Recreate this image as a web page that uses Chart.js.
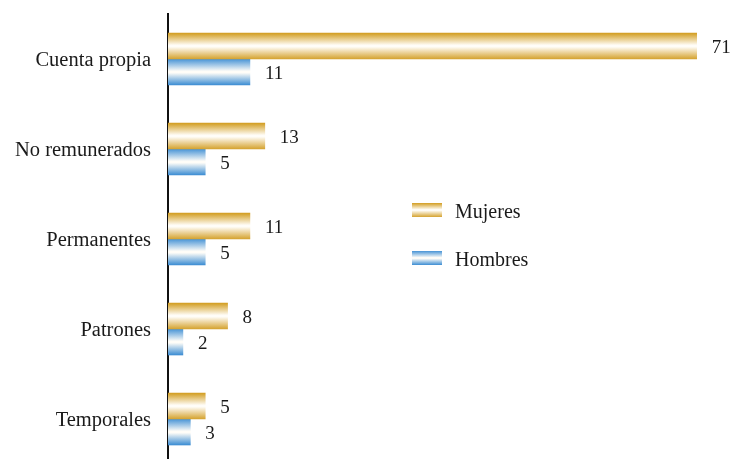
<!DOCTYPE html>
<html>
<head>
<meta charset="utf-8">
<script src="https://cdn.jsdelivr.net/npm/chart.js@4/dist/chart.umd.min.js"></script>
<style>
  html, body { margin: 0; padding: 0; background: #fff; overflow: hidden; }
  #wrap { width: 734px; height: 459px; overflow: hidden; }
  canvas { display: block; }
</style>
</head>
<body>
<div id="wrap"><canvas id="Chart_0" width="734" height="464"></canvas></div>
<script>
"use strict";

// datos
const categorias = ['Cuenta propia', 'No remunerados', 'Permanentes', 'Patrones', 'Temporales'];
const mujeres = [71, 13, 11, 8, 5];
const hombres = [11, 5, 5, 2, 3];
const series_Na = ['Mujeres', 'Hombres'];

const FONT = "'Liberation Serif', 'DejaVu Serif', serif";
const BAR_H = 26;

// gradiente vertical (color - blanco - color)
function grad(ctx, y0, y1, c_Top, c_Bot) {
  const g = ctx.createLinearGradient(0, y0, 0, y1);
  g.addColorStop(0, c_Top);
  g.addColorStop(0.47, '#fffdf8');
  g.addColorStop(0.53, '#fffdf8');
  g.addColorStop(1, c_Bot);
  return g;
}
const colores = [['#d29d20', '#d5a330'], ['#4693d6', '#3c8dd3']];

function barFill(context) {
  const chart = context.chart, ds = context.datasetIndex;
  const y = chart.scales.y;
  if (!y || context.dataIndex === undefined) return colores[ds][0];
  const mid = y.getPixelForValue(context.dataIndex);
  if (!isFinite(mid)) return colores[ds][0];
  const top = ds === 0 ? mid - BAR_H : mid;
  return grad(chart.ctx, top, top + BAR_H, colores[ds][0], colores[ds][1]);
}

// etiquetas de valor y leyenda
const extras = {
  id: 'extras',
  afterDatasetsDraw(chart) {
    const ctx = chart.ctx;
    ctx.save();
    ctx.font = '19px ' + FONT;
    ctx.fillStyle = '#1a1a1a';
    ctx.textBaseline = 'middle';
    chart.data.datasets.forEach((d, i) => {
      chart.getDatasetMeta(i).data.forEach((bar, j) => {
        ctx.fillText(String(d.data[j]), bar.x + 15, bar.y + 2);
      });
    });
    // leyenda
    ctx.font = '20px ' + FONT;
    const lx = 412, ly = [210, 258];
    series_Na.forEach((n, i) => {
      ctx.fillStyle = grad(ctx, ly[i] - 7, ly[i] + 7, colores[i][0], colores[i][1]);
      ctx.fillRect(lx, ly[i] - 7, 30, 14);
      ctx.fillStyle = '#1a1a1a';
      ctx.fillText(n, 455, ly[i] + 3);
    });
    ctx.restore();
  }
};

new Chart(document.getElementById('Chart_0'), {
  type: 'bar',
  data: {
    labels: categorias,
    datasets: [
      { label: series_Na[0], data: mujeres, backgroundColor: barFill, barThickness: BAR_H },
      { label: series_Na[1], data: hombres, backgroundColor: barFill, barThickness: BAR_H }
    ]
  },
  options: {
    indexAxis: 'y',
    responsive: false,
    animation: false,
    layout: { padding: { top: 14, right: 15, bottom: 0, left: 0 } },
    plugins: { legend: { display: false }, tooltip: { enabled: false } },
    scales: {
      x: { display: false, min: 0, max: 74 },
      y: {
        grid: { display: false, drawTicks: false },
        border: { display: true, color: '#111', width: 2 },
        ticks: { color: '#1a1a1a', padding: 17, labelOffset: 2, font: { family: FONT, size: 20.5 } },
        afterFit(scale) {
          scale.width = 168;
          scale.paddingTop = 0;
          scale.paddingBottom = 0;
        }
      }
    }
  },
  plugins: [extras]
});
</script>
</body>
</html>
